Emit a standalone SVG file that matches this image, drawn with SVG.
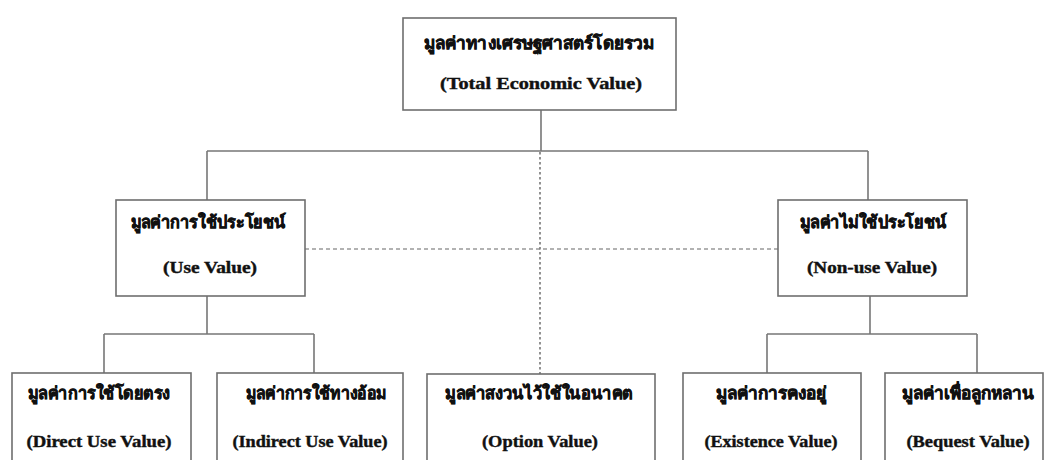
<svg xmlns="http://www.w3.org/2000/svg" width="1044" height="460" viewBox="0 0 1044 460">
<style>
.box{fill:#fff;stroke:#6e6e6e;stroke-width:1.6}
.ln{fill:none;stroke:#777;stroke-width:1.6}
.dash{fill:none;stroke:#666;stroke-width:1.2;stroke-dasharray:4 3}
.dot{fill:none;stroke:#777;stroke-width:1.6;stroke-dasharray:2.5 2.5}
.th{font-family:"Liberation Serif","Noto Sans","DejaVu Serif",serif;font-weight:bold;font-size:17px;fill:#111;stroke:#111;stroke-width:0.6;text-anchor:middle}
.en{font-family:"Liberation Serif","DejaVu Serif",serif;font-weight:bold;font-size:16px;fill:#111;stroke:#111;stroke-width:0.4;text-anchor:middle}
</style>
<rect width="1044" height="460" fill="#fff"/>
<g id="connectors">
<path class="ln" d="M541 110V151M207 151H868M207 151V200M868 151V200"/>
<path class="ln" d="M207 296V334M104 334H314M104 334V373M314 334V373"/>
<path class="ln" d="M870 296V334M767 334H977M767 334V373M977 334V373"/>
<path class="dash" d="M305 249H778"/>
<path class="dot" d="M540 152V374"/>
</g>
<g id="total">
<rect class="box" x="403" y="18" width="273" height="92"/>
<text class="th" x="539" y="49" textLength="230" lengthAdjust="spacingAndGlyphs">มูลค่าทางเศรษฐศาสตร์โดยรวม</text>
<text class="en" x="541" y="89" textLength="202" lengthAdjust="spacingAndGlyphs">(Total Economic Value)</text>
</g>
<g id="use">
<rect class="box" x="116" y="200" width="189" height="96"/>
<text class="th" x="208" y="228" textLength="155" lengthAdjust="spacingAndGlyphs">มูลค่าการใช้ประโยชน์</text>
<text class="en" x="210" y="273" textLength="94" lengthAdjust="spacingAndGlyphs">(Use Value)</text>
</g>
<g id="nonuse">
<rect class="box" x="778" y="200" width="189" height="96"/>
<text class="th" x="873" y="228" textLength="147" lengthAdjust="spacingAndGlyphs">มูลค่าไม่ใช้ประโยชน์</text>
<text class="en" x="872" y="273" textLength="130" lengthAdjust="spacingAndGlyphs">(Non-use Value)</text>
</g>
<g id="direct">
<rect class="box" x="12" y="373" width="179" height="95"/>
<text class="th" x="99" y="399" textLength="142" lengthAdjust="spacingAndGlyphs">มูลค่าการใช้โดยตรง</text>
<text class="en" x="99" y="447" textLength="145" lengthAdjust="spacingAndGlyphs">(Direct Use Value)</text>
</g>
<g id="indirect">
<rect class="box" x="217" y="373" width="186" height="95"/>
<text class="th" x="316" y="399" textLength="140" lengthAdjust="spacingAndGlyphs">มูลค่าการใช้ทางอ้อม</text>
<text class="en" x="310" y="447" textLength="155" lengthAdjust="spacingAndGlyphs">(Indirect Use Value)</text>
</g>
<g id="option">
<rect class="box" x="427" y="374" width="228" height="94"/>
<text class="th" x="539" y="399" textLength="188" lengthAdjust="spacingAndGlyphs">มูลค่าสงวนไว้ใช้ในอนาคต</text>
<text class="en" x="540" y="447" textLength="116" lengthAdjust="spacingAndGlyphs">(Option Value)</text>
</g>
<g id="existence">
<rect class="box" x="683" y="373" width="178" height="95"/>
<text class="th" x="771" y="399" textLength="111" lengthAdjust="spacingAndGlyphs">มูลค่าการคงอยู่</text>
<text class="en" x="771" y="447" textLength="133" lengthAdjust="spacingAndGlyphs">(Existence Value)</text>
</g>
<g id="bequest">
<rect class="box" x="885" y="373" width="158" height="95"/>
<text class="th" x="968" y="399" textLength="133" lengthAdjust="spacingAndGlyphs">มูลค่าเพื่อลูกหลาน</text>
<text class="en" x="968" y="447" textLength="123" lengthAdjust="spacingAndGlyphs">(Bequest Value)</text>
</g>
</svg>
